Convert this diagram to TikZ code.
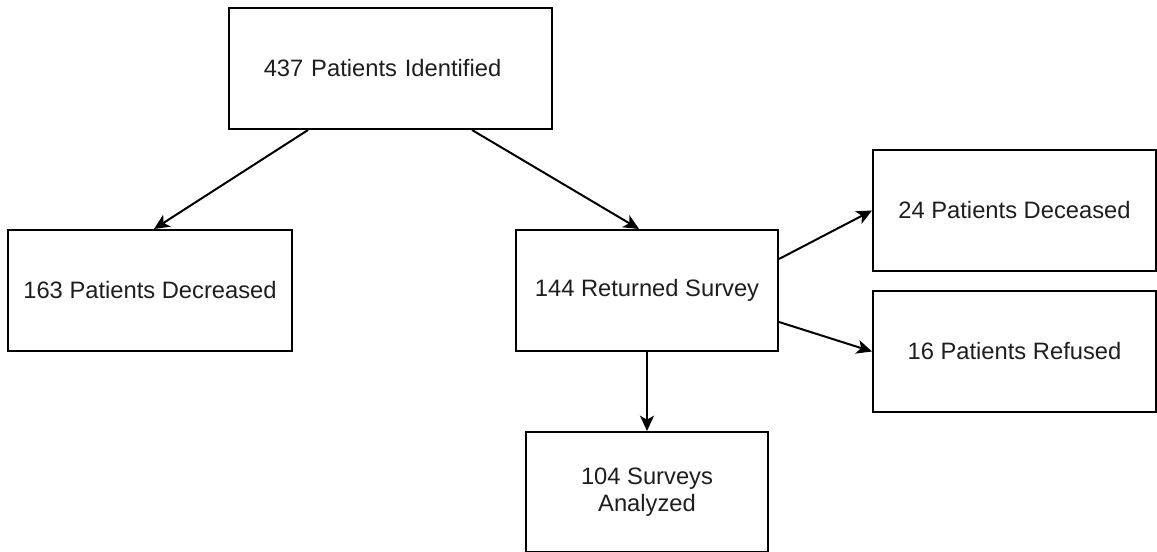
\documentclass[tikz,border=0pt]{standalone}
\usepackage{fontspec}
\setmainfont{Liberation Sans}
\usetikzlibrary{calc,arrows.meta}
\definecolor{txt}{RGB}{30,30,30}
\begin{document}
\begin{tikzpicture}[x=0.75pt,y=-0.75pt,
  box/.style={draw=black, line width=1.5pt, rectangle, inner sep=0pt,
    minimum height=90.75pt, align=center, text=txt,
    font=\fontsize{17.8pt}{20.25pt}\selectfont},
  conn/.style={line width=1.5pt, -{Stealth[length=11.5pt,width=10.5pt,inset=3pt]}}]
\useasboundingbox (0,0) rectangle (1157,552);
\node[box, minimum width=242.25pt, text width=242.25pt] (top) at (390.5,68.5) {437 Patients Identified\hspace*{12pt}};
\node[box, minimum width=213pt] (left) at (150,290.5) {163 Patients Decreased};
\node[box, minimum width=196.5pt] (mid) at (647,290.5) {144 Returned Survey};
\node[box, minimum width=212.25pt] (rt) at (1014.5,210.5) {24 Patients Deceased};
\node[box, minimum width=212.25pt] (rb) at (1014.5,351.5) {16 Patients Refused};
\node[box, minimum width=181.5pt, minimum height=90pt] (bot) at (647,492) {104 Surveys\\Analyzed};
\draw[conn] ($(top.south west)+(80,0)$) -- ($(left.north west)+(147,0)$);
\draw[conn] ($(top.south west)+(244,0)$) -- ($(mid.north west)+(124,0)$);
\draw[conn] ($(mid.north east)+(0,30)$) -- (rt.west);
\draw[conn] ($(mid.south east)+(0,-30)$) -- (rb.west);
\draw[conn] (mid.south) -- (bot.north);
\end{tikzpicture}
\end{document}
